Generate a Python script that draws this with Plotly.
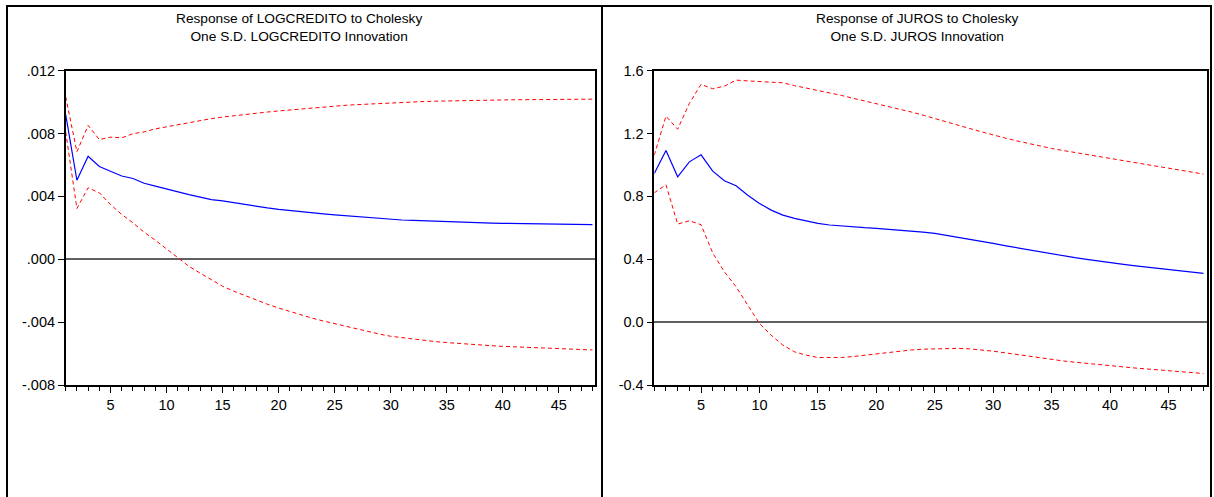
import plotly.graph_objects as go

periods = list(range(1, 49))

credito_resp = [0.0092, 0.00503, 0.00655, 0.0059, 0.0056, 0.0053, 0.00514, 0.00484, 0.00466, 0.00446,
                0.00428, 0.00411, 0.00395, 0.0038, 0.00372, 0.0036, 0.00348, 0.00337, 0.00327, 0.00318,
                0.0031, 0.00302, 0.00295, 0.00289, 0.00283, 0.00277, 0.00272, 0.00266, 0.0026, 0.00254,
                0.0025, 0.00247, 0.00244, 0.00241, 0.00238, 0.00236, 0.00234, 0.00232, 0.0023, 0.00229,
                0.00228, 0.00227, 0.00226, 0.00225, 0.00224, 0.00223, 0.00222, 0.00221]
credito_upper = [0.01034, 0.00684, 0.00852, 0.00762, 0.00777, 0.00773, 0.00799, 0.00811, 0.0083, 0.00843,
                 0.00858, 0.00872, 0.00884, 0.00895, 0.00905, 0.00914, 0.00922, 0.0093, 0.00937, 0.00944,
                 0.0095, 0.0096, 0.00965, 0.0097, 0.00975, 0.0098, 0.00984, 0.00988, 0.00992, 0.00996,
                 0.00999, 0.01002, 0.01004, 0.01006, 0.01008, 0.0101, 0.01011, 0.01012, 0.01013, 0.01014,
                 0.01015, 0.01016, 0.01016, 0.01017, 0.01017, 0.01018, 0.01018, 0.01019]
credito_lower = [0.0081, 0.00323, 0.00455, 0.00423, 0.00348, 0.00285, 0.00232, 0.00172, 0.00121, 0.00066,
                 0.00009, -0.00045, -0.00088, -0.0013, -0.00172, -0.00203, -0.00232, -0.0026, -0.00286, -0.0031,
                 -0.00333, -0.00355, -0.00375, -0.00393, -0.0041, -0.00428, -0.00445, -0.0046, -0.00476, -0.0049,
                 -0.00499, -0.00508, -0.00516, -0.00524, -0.0053, -0.00536, -0.0054, -0.00545, -0.0055, -0.00554,
                 -0.00557, -0.0056, -0.00563, -0.00566, -0.00569, -0.00572, -0.00575, -0.00577]

juros_resp = [0.946, 1.092, 0.925, 1.02, 1.065, 0.961, 0.90, 0.868, 0.808, 0.755,
              0.713, 0.681, 0.66, 0.643, 0.628, 0.618, 0.611, 0.606, 0.601, 0.597,
              0.592, 0.586, 0.58, 0.573, 0.565, 0.553, 0.54, 0.527, 0.514, 0.501,
              0.487, 0.474, 0.46, 0.446, 0.433, 0.421, 0.41, 0.399, 0.388, 0.378,
              0.369, 0.36, 0.351, 0.343, 0.334, 0.326, 0.318, 0.31]
juros_upper = [1.063, 1.311, 1.228, 1.392, 1.513, 1.485, 1.502, 1.54, 1.535, 1.53,
               1.528, 1.523, 1.505, 1.49, 1.475, 1.46, 1.443, 1.425, 1.408, 1.39,
               1.374, 1.356, 1.337, 1.317, 1.297, 1.275, 1.254, 1.232, 1.211, 1.19,
               1.172, 1.154, 1.137, 1.121, 1.105, 1.092, 1.079, 1.066, 1.053, 1.04,
               1.028, 1.016, 1.004, 0.992, 0.98, 0.967, 0.955, 0.942]
juros_lower = [0.823, 0.874, 0.624, 0.645, 0.62, 0.44, 0.32, 0.225, 0.108, -0.008,
               -0.083, -0.146, -0.189, -0.21, -0.225, -0.227, -0.225, -0.219, -0.21, -0.2,
               -0.191, -0.183, -0.177, -0.172, -0.169, -0.167, -0.167, -0.17, -0.176, -0.185,
               -0.195, -0.206, -0.217, -0.228, -0.238, -0.247, -0.255, -0.263, -0.271, -0.278,
               -0.285, -0.291, -0.297, -0.303, -0.309, -0.315, -0.321, -0.327]

x_ticks = [5, 10, 15, 20, 25, 30, 35, 40, 45]
left_yvals = [0.012, 0.008, 0.004, 0.0, -0.004, -0.008]
left_ytext = [".012", ".008", ".004", ".000", "-.004", "-.008"]
right_yvals = [1.6, 1.2, 0.8, 0.4, 0.0, -0.4]
right_ytext = ["1.6", "1.2", "0.8", "0.4", "0.0", "-0.4"]
titles = ["Response of LOGCREDITO to Cholesky<br>One S.D. LOGCREDITO Innovation",
          "Response of JUROS to Cholesky<br>One S.D. JUROS Innovation"]

W, H = 1214, 497
FONT = "Liberation Sans, Arial, sans-serif"

def px(X):
    return X / W

def py(Y):
    return 1 - Y / H

fig = go.Figure()

def add_panel(xa, ya, resp, up, lo):
    fig.add_trace(go.Scatter(x=periods, y=up, mode="lines", xaxis=xa, yaxis=ya,
                             line=dict(color="#ff0000", width=1, dash="4px,3px"), showlegend=False))
    fig.add_trace(go.Scatter(x=periods, y=lo, mode="lines", xaxis=xa, yaxis=ya,
                             line=dict(color="#ff0000", width=1, dash="4px,3px"), showlegend=False))
    fig.add_trace(go.Scatter(x=periods, y=resp, mode="lines", xaxis=xa, yaxis=ya,
                             line=dict(color="#0000ff", width=1.2), showlegend=False))

add_panel("x", "y", credito_resp, credito_upper, credito_lower)
add_panel("x2", "y2", juros_resp, juros_upper, juros_lower)

ydom = [py(385), py(70.7)]
xcommon = dict(tickmode="array", tickvals=x_ticks, ticks="outside", ticklen=6, tickwidth=1,
               tickcolor="black", showgrid=False, zeroline=False, showline=True, mirror=True,
               linecolor="black", linewidth=1.5, automargin=False,
               minor=dict(dtick=1, tick0=0, ticks="outside", ticklen=4, tickcolor="black", showgrid=False),
               tickfont=dict(family=FONT, size=14.5, color="black"))
ycommon = dict(tickmode="array", ticks="outside", ticklen=6, tickwidth=1, tickcolor="black",
               showgrid=False, zeroline=True, zerolinecolor="#606060", zerolinewidth=1.5,
               showline=True, mirror=True, linecolor="black", linewidth=1.5, automargin=False,
               tickfont=dict(family=FONT, size=14.5, color="black"))

fig.update_layout(
    width=W, height=H, margin=dict(l=0, r=0, t=0, b=0, autoexpand=False),
    paper_bgcolor="white", plot_bgcolor="white", showlegend=False,
    xaxis=dict(domain=[px(65.7), px(594.7)], range=[1, 48.2], anchor="y", **xcommon),
    yaxis=dict(domain=ydom, range=[-0.008, 0.012], tickvals=left_yvals, ticktext=left_ytext,
               anchor="x", **ycommon),
    xaxis2=dict(domain=[px(654.3), px(1207)], range=[1, 48.3], anchor="y2", **xcommon),
    yaxis2=dict(domain=ydom, range=[-0.4, 1.6], tickvals=right_yvals, ticktext=right_ytext,
                anchor="x2", **ycommon),
)

# panel frames
shapes = [
    dict(type="rect", xref="paper", yref="paper", x0=px(7), x1=px(1211), y0=-0.05, y1=py(6),
         line=dict(color="black", width=2)),
    dict(type="line", xref="paper", yref="paper", x0=px(602), x1=px(602), y0=-0.05, y1=py(6),
         line=dict(color="black", width=2)),
]
fig.update_layout(shapes=shapes)

fig.add_annotation(text=titles[0], xref="paper", yref="paper", x=px(299), y=py(27),
                   xanchor="center", yanchor="middle", showarrow=False, align="center",
                   font=dict(family=FONT, size=13.7, color="black"))
fig.add_annotation(text=titles[1], xref="paper", yref="paper", x=px(918), y=py(27),
                   xanchor="center", yanchor="middle", showarrow=False, align="center",
                   font=dict(family=FONT, size=13.7, color="black"))

fig.write_html("out.html")
